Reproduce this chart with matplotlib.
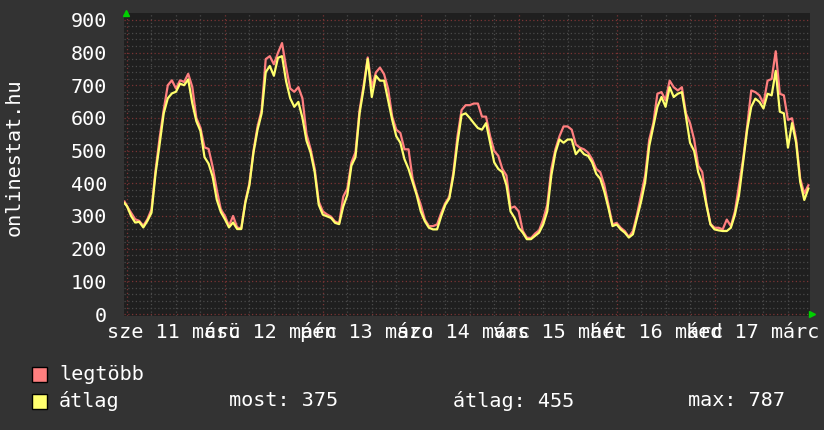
import numpy as np
import matplotlib
matplotlib.use("Agg")
from matplotlib import pyplot as plt
from matplotlib.patches import Rectangle
from matplotlib.ticker import FixedLocator

# hours since wed 11 march 00:00 (first sample a bit before midnight)
hours = np.concatenate([[-0.6], np.arange(0, 168)])

# legtöbb (max) series
legtobb = [344,
    330, 310, 290, 285, 270, 290, 320, 440, 540, 625, 700, 715, 690, 715, 710, 735, 695, 600, 570, 510, 505, 450, 380, 320,
    300, 270, 300, 265, 262, 345, 400, 500, 574, 624, 780, 789, 764, 799, 829, 755, 690, 680, 694, 660, 550, 505, 445, 344,
    314, 305, 298, 283, 278, 359, 384, 464, 495, 624, 700, 785, 694, 739, 754, 734, 689, 604, 564, 554, 504, 504, 414, 370,
    334, 289, 269, 269, 274, 309, 339, 359, 434, 544, 624, 639, 639, 644, 644, 604, 604, 544, 499, 484, 444, 424, 324, 329,
    314, 254, 234, 232, 246, 256, 289, 334, 444, 504, 544, 574, 574, 564, 519, 509, 504, 494, 474, 444, 434, 394, 334, 274,
    279, 264, 254, 236, 254, 304, 364, 424, 534, 584, 674, 679, 654, 714, 694, 684, 694, 614, 584, 534, 454, 434, 339, 276,
    264, 264, 259, 289, 269, 314, 394, 474, 574, 684, 679, 669, 644, 714, 719, 804, 674, 669, 594, 599, 534, 414, 369, 394]

# átlag (average) series
atlag = [339,
    330, 300, 280, 282, 265, 285, 310, 430, 520, 614, 660, 675, 680, 705, 700, 718, 645, 590, 560, 480, 460, 420, 350, 312,
    290, 265, 280, 260, 260, 340, 394, 494, 564, 614, 740, 759, 729, 784, 789, 712, 660, 634, 649, 600, 530, 494, 434, 334,
    304, 299, 294, 279, 275, 329, 364, 454, 480, 614, 690, 780, 664, 729, 714, 714, 654, 594, 544, 524, 474, 444, 404, 364,
    314, 284, 264, 259, 259, 299, 334, 354, 424, 524, 609, 614, 600, 584, 569, 564, 584, 524, 464, 444, 434, 394, 314, 294,
    264, 249, 229, 229, 239, 249, 274, 314, 424, 494, 534, 524, 534, 534, 489, 504, 489, 484, 464, 429, 414, 374, 324, 269,
    274, 259, 249, 234, 244, 294, 344, 404, 514, 574, 634, 664, 634, 694, 664, 674, 679, 604, 524, 499, 434, 399, 334, 274,
    259, 256, 254, 254, 264, 304, 364, 464, 564, 634, 659, 649, 629, 674, 669, 744, 619, 614, 509, 584, 524, 404, 349, 384]

day_labels = ["sze 11 márc", "csü 12 márc", "pén 13 márc", "szo 14 márc",
              "vas 15 márc", "hét 16 márc", "ked 17 márc"]
stats = ["most: 375", "átlag: 455", "max: 787"]

BG = "#333333"
CANVAS = "#1f1f1f"
RED = "#ff7f7f"
YEL = "#ffff6e"
FS = 14.5
plt.rcParams["font.family"] = ["DejaVu Sans Mono"]

W, H = 824, 430
fig = plt.figure(figsize=(W / 100, H / 100), dpi=100, facecolor=BG)
ax = fig.add_axes([124 / W, 1 - 316 / H, 686 / W, 303 / H], facecolor=CANVAS)

ax.set_xlim(-0.735, 167.4)
ax.set_ylim(-6, 921)

# grid like rrdtool: gray minor, red major
for h in np.arange(0, 168, 6):
    c = "#7a3434" if h % 24 == 0 else "#4a4a4a"
    ax.axvline(h, color=c, lw=0.9, ls=(0, (1, 2)), zorder=1)
for v in np.arange(0, 901, 20):
    c = "#7a3434" if v % 100 == 0 else "#4a4a4a"
    ax.axhline(v, color=c, lw=0.9, ls=(0, (1, 2)), zorder=1)

ax.plot(hours, legtobb, color=RED, lw=1.6, zorder=3)
ax.plot(hours, atlag, color=YEL, lw=1.6, zorder=4)

# day labels sit roughly around noon, squeezed a little like rrdtool does
ax.xaxis.set_major_locator(FixedLocator(np.linspace(11.5, 153.4, 7)))
ax.yaxis.set_major_locator(FixedLocator(np.arange(0, 901, 100)))
ax.set_xticklabels(day_labels)
ax.set_yticklabels([str(v) for v in range(0, 901, 100)])
ax.tick_params(which="both", length=0, colors="white", labelsize=FS)
ax.tick_params(axis="y", pad=12)
ax.tick_params(axis="x", pad=16)
for lbl in ax.get_xticklabels():
    lbl.set_verticalalignment("baseline")
for s in ax.spines.values():
    s.set_visible(False)

# green arrows at axis ends
ax.plot([0.003], [1.0], marker="^", color="#00d000", ms=5, transform=ax.transAxes, clip_on=False)
ax.plot([1.003], [0.008], marker=">", color="#00d000", ms=5, transform=ax.transAxes, clip_on=False)

fig.text(14 / W, 1 - 157 / H, "onlinestat.hu", rotation=90, color="white",
         fontsize=FS, ha="center", va="center")

# legend
for i, (name, col) in enumerate([("legtöbb", RED), ("átlag", YEL)]):
    yc = 374 + i * 27
    fig.patches.append(Rectangle((32 / W, 1 - (yc + 8) / H), 15 / W, 15 / H,
                                 transform=fig.transFigure, facecolor=col,
                                 edgecolor="black", lw=1))
    fig.text(59 / W, 1 - yc / H, name, color="white", fontsize=FS, va="center")
for x, s in zip([229, 453, 688], stats):
    fig.text(x / W, 1 - 401 / H, s, color="white", fontsize=FS, va="center")

fig.savefig("out.png", dpi=100, facecolor=BG)
